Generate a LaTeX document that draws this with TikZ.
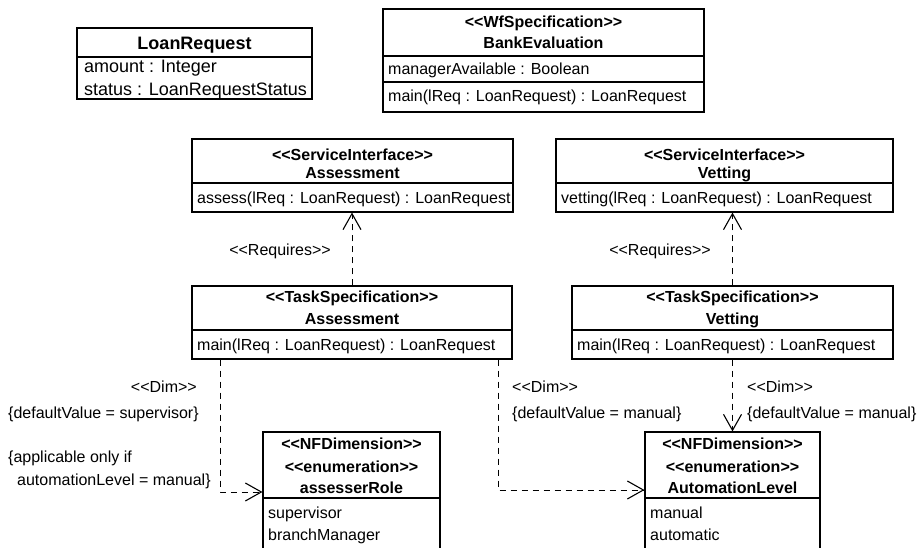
\documentclass[tikz,border=0pt]{standalone}
\usepackage{fontspec}
\setmainfont{Liberation Sans}
\usetikzlibrary{arrows.meta}
\newcommand\stL{<\kern0pt<}
\newcommand\stR{>\kern0pt>}
\begin{document}
\begin{tikzpicture}[x=1pt,y=-1pt,
  box/.style={draw, line width=1.1pt, inner sep=0pt, fill=white},
  sepline/.style={line width=1.1pt},
  t/.style={inner sep=0pt, text height=11.5pt, text depth=0pt, font=\fontsize{16}{19}\selectfont},
  tb/.style={t, font=\fontsize{16}{19}\selectfont\bfseries},
  tl/.style={inner sep=0pt, text height=12.9pt, text depth=0pt, font=\fontsize{18}{21}\selectfont},
  tlb/.style={tl, font=\fontsize{18}{21}\selectfont\bfseries},
  dep/.style={line width=1pt, dash pattern=on 6pt off 5pt, -{Straight Barb[length=16pt,width=18pt,line width=1.1pt]}},
]
\useasboundingbox (0,0) rectangle (917,548);
\clip (0,0) rectangle (917,548);

% LoanRequest
\node[box, minimum width=235pt, minimum height=71pt] (lr) at (194.5,63.5) {};
\draw[sepline] (lr.west |- 0,57) -- (lr.east |- 0,57);
\node[tlb] (lrn) at (194.5,43) {LoanRequest};
\node[tl, anchor=west] (lra1) at (84,66) {amount : Integer};
\node[tl, anchor=west] (lra2) at (84,89) {status : LoanRequestStatus};

% BankEvaluation
\node[box, minimum width=321pt, minimum height=103pt] (be) at (543.5,60.5) {};
\draw[sepline] (be.west |- 0,56) -- (be.east |- 0,56);
\draw[sepline] (be.west |- 0,82) -- (be.east |- 0,82);
\node[tb] (bes) at (543.5,22) {\stL WfSpecification\stR};
\node[tb] (ben) at (543.5,43) {BankEvaluation};
\node[t, anchor=west] (bea) at (388,69) {managerAvailable : Boolean};
\node[t, anchor=west] (beo) at (388,96) {main(lReq : LoanRequest) : LoanRequest};

% ServiceInterface Assessment
\node[box, minimum width=321pt, minimum height=73pt] (siA) at (352.5,175.5) {};
\draw[sepline] (siA.west |- 0,183) -- (siA.east |- 0,183);
\node[tb] (siAs) at (352.5,155) {\stL ServiceInterface\stR};
\node[tb] (siAn) at (352.5,173) {Assessment};
\node[t, anchor=west] (siAo) at (197,198) {assess(lReq : LoanRequest) : LoanRequest};

% ServiceInterface Vetting
\node[box, minimum width=337pt, minimum height=73pt] (siV) at (724.5,175.5) {};
\draw[sepline] (siV.west |- 0,183) -- (siV.east |- 0,183);
\node[tb] (siVs) at (724.5,155) {\stL ServiceInterface\stR};
\node[tb] (siVn) at (724.5,173) {Vetting};
\node[t, anchor=west] (siVo) at (561,198) {vetting(lReq : LoanRequest) : LoanRequest};

% TaskSpecification Assessment
\node[box, minimum width=320pt, minimum height=73pt] (tsA) at (352,322.5) {};
\draw[sepline] (tsA.west |- 0,330) -- (tsA.east |- 0,330);
\node[tb] (tsAs) at (352,297) {\stL TaskSpecification\stR};
\node[tb] (tsAn) at (352,319) {Assessment};
\node[t, anchor=west] (tsAo) at (197,345) {main(lReq : LoanRequest) : LoanRequest};

% TaskSpecification Vetting
\node[box, minimum width=321pt, minimum height=73pt] (tsV) at (732.5,322.5) {};
\draw[sepline] (tsV.west |- 0,330) -- (tsV.east |- 0,330);
\node[tb] (tsVs) at (732.5,297) {\stL TaskSpecification\stR};
\node[tb] (tsVn) at (732.5,319) {Vetting};
\node[t, anchor=west] (tsVo) at (577,345) {main(lReq : LoanRequest) : LoanRequest};

% assesserRole
\node[box, minimum width=177pt, minimum height=128pt] (aR) at (351.5,496) {};
\draw[sepline] (aR.west |- 0,498) -- (aR.east |- 0,498);
\node[tb] (aRs1) at (351.5,444) {\stL NFDimension\stR};
\node[tb] (aRs2) at (351.5,467) {\stL enumeration\stR};
\node[tb] (aRn) at (351.5,488) {assesserRole};
\node[t, anchor=west] (aRv1) at (268,513) {supervisor};
\node[t, anchor=west] (aRv2) at (268,535) {branchManager};

% AutomationLevel
\node[box, minimum width=175pt, minimum height=128pt] (aL) at (732.5,496) {};
\draw[sepline] (aL.west |- 0,498) -- (aL.east |- 0,498);
\node[tb] (aLs1) at (732.5,444) {\stL NFDimension\stR};
\node[tb] (aLs2) at (732.5,467) {\stL enumeration\stR};
\node[tb] (aLn) at (732.5,488) {AutomationLevel};
\node[t, anchor=west] (aLv1) at (650,513) {manual};
\node[t, anchor=west] (aLv2) at (650,535) {automatic};

% Requires dependencies
\draw[dep] (tsA.north) -- (tsA.north |- siA.south);
\draw[dep] (tsV.north) -- (tsV.north |- siV.south);
\node[t] (rq1) at (280,250) {\stL Requires\stR};
\node[t] (rq2) at (660,250) {\stL Requires\stR};

% Dim dependencies
\draw[dep] (tsA.south west -| 220,0) |- (aR.west |- 0,492);
\draw[dep] (tsA.south west -| 498,0) |- (aL.west |- 0,490);
\draw[dep] (tsV.south) -- (aL.north);

\node[t, anchor=east] (d1) at (197,387) {\stL Dim\stR};
\node[t, anchor=west] (d1v) at (8,413) {\{defaultValue = supervisor\}};
\node[t, anchor=west] (d1c1) at (8,457) {\{applicable only if};
\node[t, anchor=west] (d1c2) at (17,480) {automationLevel = manual\}};

\node[t, anchor=west] (d2) at (512,387) {\stL Dim\stR};
\node[t, anchor=west] (d2v) at (512,413) {\{defaultValue = manual\}};
\node[t, anchor=west] (d3) at (747,387) {\stL Dim\stR};
\node[t, anchor=west] (d3v) at (747,413) {\{defaultValue = manual\}};
\end{tikzpicture}
\end{document}
